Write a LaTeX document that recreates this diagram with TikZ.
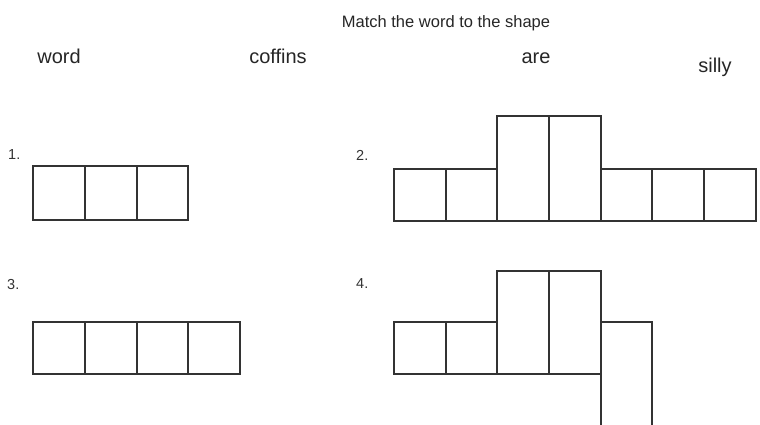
\documentclass[tikz,border=0pt]{standalone}
\usepackage{fontspec}
\setmainfont{Liberation Sans}
\begin{document}
\begin{tikzpicture}[x=1pt,y=-1pt,
  cell/.style={draw=black!80,line width=1.3pt},
  word/.style={anchor=base,inner sep=0pt,font=\fontsize{20}{24}\selectfont,text=black!85},
  num/.style={anchor=base west,inner sep=0pt,font=\fontsize{14.5}{17}\selectfont,text=black!80},
  ttl/.style={anchor=base,inner sep=0pt,font=\fontsize{16.5}{20}\selectfont,text=black!85}]
\useasboundingbox (0,0) rectangle (760,424);
\node[ttl] (title) at (446,27) {Match the word to the shape};
\node[word] (w1) at (59,63) {word};
\node[word] (w2) at (278,63) {coffins};
\node[word] (w3) at (536,63) {are};
\node[word] (w4) at (715,72) {silly};
\node[num] (n1) at (8,159) {1.};
\node[num] (n2) at (356,160) {2.};
\node[num] (n3) at (7,289) {3.};
\node[num] (n4) at (356,288) {4.};
% shape 1
\draw[cell] (33,166) rectangle (85,220);
\draw[cell] (85,166) rectangle (137,220);
\draw[cell] (137,166) rectangle (188,220);
% shape 2
\draw[cell] (394,169) rectangle (446,221);
\draw[cell] (446,169) rectangle (497,221);
\draw[cell] (497,116) rectangle (549,221);
\draw[cell] (549,116) rectangle (601,221);
\draw[cell] (601,169) rectangle (652,221);
\draw[cell] (652,169) rectangle (704,221);
\draw[cell] (704,169) rectangle (756,221);
% shape 3
\draw[cell] (33,322) rectangle (85,374);
\draw[cell] (85,322) rectangle (137,374);
\draw[cell] (137,322) rectangle (188,374);
\draw[cell] (188,322) rectangle (240,374);
% shape 4
\draw[cell] (394,322) rectangle (446,374);
\draw[cell] (446,322) rectangle (497,374);
\draw[cell] (497,271) rectangle (549,374);
\draw[cell] (549,271) rectangle (601,374);
\draw[cell] (601,322) -- (652,322) -- (652,430);
\draw[cell] (601,374) -- (601,430);
\end{tikzpicture}
\end{document}
